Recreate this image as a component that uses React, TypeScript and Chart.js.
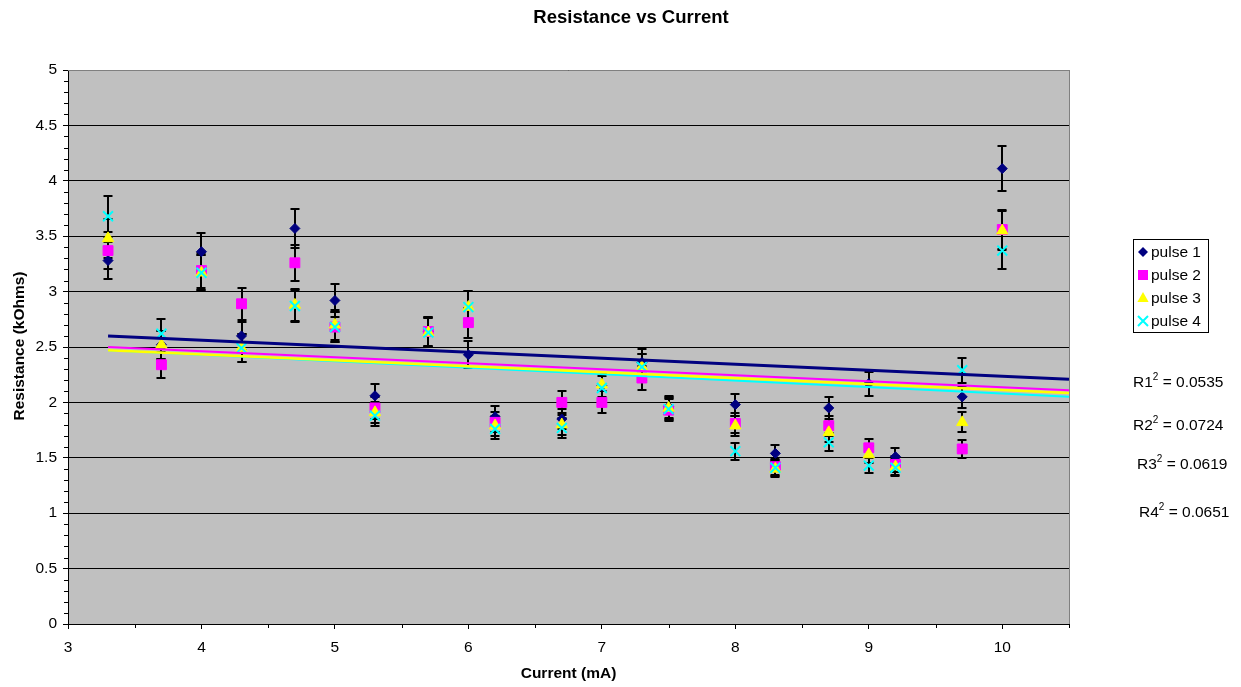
import React, { useEffect, useRef } from 'react';
import { Chart, registerables } from 'chart.js';

Chart.register(...registerables);

const FONT = '"Liberation Sans", Arial, Helvetica, sans-serif';

// ---- data ----
const currents = [3.3, 3.7, 4.0, 4.3, 4.7, 5.0, 5.3, 5.7, 6.0, 6.2, 6.7, 7.0, 7.3, 7.5, 8.0, 8.3, 8.7, 9.0, 9.2, 9.7, 10.0];
const pulse1 = [3.28, 2.52, 3.36, 2.60, 3.57, 2.92, 2.06, 2.64, 2.43, 1.87, 1.85, 2.15, 2.36, 1.96, 1.98, 1.54, 1.95, 2.17, 1.51, 2.05, 4.11];
const pulse2 = [3.37, 2.34, 3.19, 2.89, 3.26, 2.68, 1.95, 2.64, 2.72, 1.82, 2.00, 2.00, 2.22, 1.93, 1.81, 1.42, 1.79, 1.59, 1.44, 1.58, 3.56];
const pulse3 = [3.48, 2.52, 3.17, 2.49, 2.88, 2.70, 1.91, 2.63, 2.86, 1.79, 1.80, 2.16, 2.32, 1.95, 1.79, 1.40, 1.73, 1.53, 1.42, 1.82, 3.55];
const pulse4 = [3.68, 2.62, 3.17, 2.49, 2.87, 2.68, 1.88, 2.63, 2.86, 1.76, 1.77, 2.13, 2.32, 1.94, 1.56, 1.41, 1.64, 1.43, 1.41, 2.29, 3.37];
const errorFraction = 0.05; // percentage error bars (5%)

const trendX = [3.3, 10.5];
const trend1 = [2.60, 2.21];
const trend2 = [2.50, 2.11];
const trend3 = [2.47, 2.085];
const trend4 = [2.47, 2.05];

const seriesNames = ['pulse 1', 'pulse 2', 'pulse 3', 'pulse 4'];
const rSquared = ['0.0535', '0.0724', '0.0619', '0.0651'];

const chartTitle = 'Resistance vs Current';
const xTitle = 'Current (mA)';
const yTitle = 'Resistance (kOhms)';

const NAVY = '#000080';
const MAGENTA = '#FF00FF';
const YELLOW = '#FFFF00';
const CYAN = '#00FFFF';

function drawMarker(ctx: CanvasRenderingContext2D, kind: number, x: number, y: number) {
  ctx.save();
  ctx.beginPath();
  if (kind === 0) {
    ctx.fillStyle = NAVY;
    ctx.moveTo(x, y - 5); ctx.lineTo(x + 5, y); ctx.lineTo(x, y + 5); ctx.lineTo(x - 5, y); ctx.closePath();
    ctx.fill();
  } else if (kind === 1) {
    ctx.fillStyle = MAGENTA;
    ctx.fillRect(x - 5, y - 5, 10, 10);
  } else if (kind === 2) {
    ctx.fillStyle = YELLOW;
    ctx.moveTo(x, y - 6); ctx.lineTo(x + 5.6, y + 4); ctx.lineTo(x - 5.6, y + 4); ctx.closePath();
    ctx.fill();
  } else {
    ctx.strokeStyle = CYAN;
    ctx.lineWidth = 2;
    ctx.moveTo(x - 5, y - 5); ctx.lineTo(x + 5, y + 5);
    ctx.moveTo(x + 5, y - 5); ctx.lineTo(x - 5, y + 5);
    ctx.stroke();
  }
  ctx.restore();
}

const decorPlugin = {
  id: 'decor',
  beforeDraw(chart: any) {
    const { ctx, chartArea: a } = chart;
    ctx.save();
    ctx.fillStyle = '#FFFFFF';
    ctx.fillRect(0, 0, chart.width, chart.height);
    ctx.fillStyle = '#C0C0C0';
    ctx.fillRect(a.left, a.top, a.right - a.left, a.bottom - a.top);
    ctx.restore();
  },
  beforeDatasetsDraw(chart: any) {
    const { ctx } = chart;
    const xs = chart.scales.x;
    const ys = chart.scales.y;
    const all = [pulse1, pulse2, pulse3, pulse4];
    ctx.save();
    ctx.strokeStyle = '#000';
    ctx.lineWidth = 2;
    all.forEach((vals) => {
      vals.forEach((v, j) => {
        const px = Math.round(xs.getPixelForValue(currents[j]));
        const yt = Math.round(ys.getPixelForValue(v * (1 + errorFraction)));
        const yb = Math.round(ys.getPixelForValue(v * (1 - errorFraction)));
        ctx.beginPath();
        ctx.moveTo(px, yt); ctx.lineTo(px, yb);
        ctx.moveTo(px - 4.5, yt); ctx.lineTo(px + 4.5, yt);
        ctx.moveTo(px - 4.5, yb); ctx.lineTo(px + 4.5, yb);
        ctx.stroke();
      });
    });
    ctx.restore();
  },
  afterDraw(chart: any) {
    const { ctx, chartArea: a } = chart;
    const xs = chart.scales.x;
    const ys = chart.scales.y;
    ctx.save();
    // gray plot border top/right
    ctx.strokeStyle = '#808080';
    ctx.lineWidth = 1;
    ctx.beginPath();
    ctx.moveTo(a.left, a.top + 0.5); ctx.lineTo(a.right + 0.5, a.top + 0.5);
    ctx.moveTo(a.right + 0.5, a.top); ctx.lineTo(a.right + 0.5, a.bottom);
    ctx.stroke();
    // minor ticks
    ctx.strokeStyle = '#000';
    ctx.beginPath();
    for (let k = 1; k < 50; k++) {
      if (k % 5 === 0) continue;
      const y = Math.round(ys.getPixelForValue(k / 10)) + 0.5;
      ctx.moveTo(a.left - 4, y); ctx.lineTo(a.left, y);
    }
    for (let k = 0; k < 8; k++) {
      const x = Math.round(xs.getPixelForValue(3.5 + k)) + 0.5;
      ctx.moveTo(x, a.bottom); ctx.lineTo(x, a.bottom + 4);
    }
    ctx.stroke();

    ctx.fillStyle = '#000';
    // title
    ctx.font = `bold 18.5px ${FONT}`;
    ctx.textAlign = 'center';
    ctx.textBaseline = 'alphabetic';
    ctx.fillText(chartTitle, 631, 23);
    // x title
    ctx.font = `bold 15.5px ${FONT}`;
    ctx.fillText(xTitle, (a.left + a.right) / 2, 678);
    // y title
    ctx.save();
    ctx.translate(24, 346);
    ctx.rotate(-Math.PI / 2);
    ctx.fillText(yTitle, 0, 0);
    ctx.restore();

    // legend
    const lx = 1133.5, ly = 239.5, lw = 75, lh = 93;
    ctx.fillStyle = '#FFFFFF';
    ctx.fillRect(lx, ly, lw, lh);
    ctx.strokeStyle = '#000';
    ctx.lineWidth = 1;
    ctx.strokeRect(lx, ly, lw, lh);
    const rowsY = [252, 275, 298, 321];
    ctx.font = `15.5px ${FONT}`;
    ctx.textAlign = 'left';
    ctx.textBaseline = 'middle';
    seriesNames.forEach((name, i) => {
      drawMarker(ctx, i, 1143, rowsY[i]);
      ctx.fillStyle = '#000';
      ctx.fillText(name, 1151, rowsY[i] + 1);
    });

    // R^2 annotations
    const rPos = [[1133, 387], [1133, 430], [1137, 469], [1139, 516.5]];
    ctx.textBaseline = 'alphabetic';
    rSquared.forEach((val, i) => {
      let [x, y] = rPos[i];
      ctx.font = `15.5px ${FONT}`;
      const base = `R${i + 1}`;
      ctx.fillText(base, x, y);
      x += ctx.measureText(base).width;
      ctx.font = `10px ${FONT}`;
      ctx.fillText('2', x, y - 7);
      x += ctx.measureText('2').width;
      ctx.font = `15.5px ${FONT}`;
      ctx.fillText(` = ${val}`, x, y);
    });
    ctx.restore();
  },
};

export default function App() {
  const ref = useRef<HTMLCanvasElement>(null);
  useEffect(() => {
    const canvas = ref.current!;
    const pts = (ys: number[], xs: number[] = currents) => xs.map((x, i) => ({ x, y: ys[i] }));
    const scatter = (label: string, ys: number[], color: string, style: string, radius: number, order: number, extra: any = {}) => ({
      label,
      data: pts(ys),
      backgroundColor: color,
      borderColor: color,
      pointStyle: style,
      pointRadius: radius,
      pointBorderWidth: 1,
      showLine: false,
      order,
      ...extra,
    });
    const trend = (ys: number[], color: string, width: number, order: number) => ({
      label: 'trend',
      data: pts(ys, trendX),
      borderColor: color,
      backgroundColor: color,
      borderWidth: width,
      pointRadius: 0,
      showLine: true,
      fill: false,
      order,
    });
    const chart = new Chart(canvas, {
      type: 'scatter',
      data: {
        datasets: [
          scatter(seriesNames[0], pulse1, NAVY, 'rectRot', 5, 4),
          scatter(seriesNames[1], pulse2, MAGENTA, 'rect', 7, 3),
          scatter(seriesNames[2], pulse3, YELLOW, 'triangle', 6.5, 2),
          scatter(seriesNames[3], pulse4, CYAN, 'crossRot', 7, 1, { pointBorderWidth: 2 }),
          trend(trend4, CYAN, 2, 0),
          trend(trend3, YELLOW, 2.5, -1),
          trend(trend2, MAGENTA, 2, -2),
          trend(trend1, NAVY, 3, -3),
        ] as any,
      },
      options: {
        responsive: false,
        animation: false,
        devicePixelRatio: 1,
        layout: { padding: { top: 70, right: 172, left: 0, bottom: 0 } },
        plugins: {
          legend: { display: false },
          title: { display: false },
          tooltip: { enabled: false },
        },
        scales: {
          x: {
            type: 'linear',
            min: 3,
            max: 10.5,
            afterBuildTicks: (s: any) => {
              s.ticks = s.ticks.filter((t: any) => Number.isInteger(t.value));
            },
            afterFit: (s: any) => {
              s.height = 63;
            },
            ticks: {
              stepSize: 1,
              color: '#000',
              font: { family: FONT, size: 15.5 },
              padding: 9,
              maxRotation: 0,
              autoSkip: false,
              callback: (v: any) => String(v),
            },
            grid: { drawOnChartArea: false, color: '#000', tickLength: 5, tickColor: '#000' },
            border: { color: '#000', width: 1 },
          },
          y: {
            type: 'linear',
            min: 0,
            max: 5,
            afterFit: (s: any) => {
              s.width = 68;
            },
            ticks: {
              stepSize: 0.5,
              color: '#000',
              font: { family: FONT, size: 15.5 },
              padding: 6,
              callback: (v: any) => String(v),
            },
            grid: { color: '#000', tickLength: 5, tickColor: '#000' },
            border: { color: '#000', width: 1 },
          },
        },
      } as any,
      plugins: [decorPlugin as any],
    });
    return () => chart.destroy();
  }, []);
  return (
    <div style={{ position: 'absolute', left: 0, top: 0, width: 1241, height: 687, background: '#fff' }}>
      <canvas ref={ref} width={1241} height={687} style={{ display: 'block', width: 1241, height: 687 }} />
    </div>
  );
}
